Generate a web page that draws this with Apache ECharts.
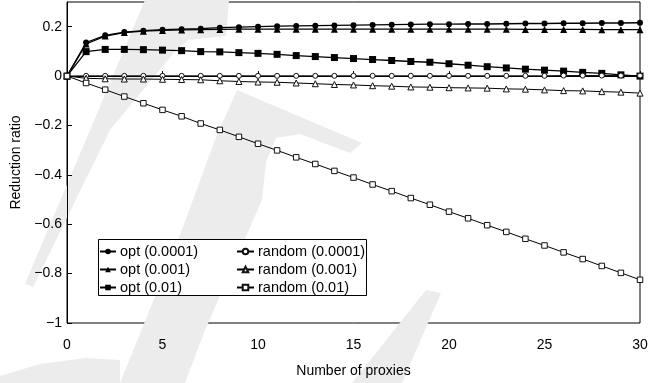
<!DOCTYPE html>
<html>
<head>
<meta charset="utf-8">
<script src="https://cdn.jsdelivr.net/npm/echarts@6/dist/echarts.min.js"></script>
<style>
html,body{margin:0;padding:0;background:#fff;}
#c{width:656px;height:383px;}
</style>
</head>
<body>
<div id="c"></div>
<script>
const proxies = [0,1,2,3,4,5,6,7,8,9,10,11,12,13,14,15,16,17,18,19,20,21,22,23,24,25,26,27,28,29,30];
const optP0001 = [0,0.136,0.165,0.178,0.184,0.188,0.190,0.192,0.196,0.198,0.200,0.202,0.203,0.204,0.205,0.206,0.207,0.208,0.209,0.210,0.210,0.211,0.211,0.212,0.213,0.213,0.214,0.214,0.215,0.215,0.216];
const optP001 = [0,0.130,0.162,0.176,0.182,0.185,0.187,0.188,0.189,0.190,0.190,0.190,0.190,0.190,0.190,0.190,0.190,0.190,0.190,0.190,0.190,0.190,0.190,0.190,0.189,0.189,0.189,0.189,0.188,0.188,0.188];
const optP01 = [0,0.099,0.108,0.108,0.107,0.105,0.103,0.099,0.098,0.095,0.092,0.088,0.083,0.079,0.075,0.071,0.067,0.063,0.059,0.056,0.050,0.044,0.038,0.033,0.028,0.024,0.020,0.015,0.011,0.005,0.000];
const randP0001 = [0,0.001,0.001,0.001,0.001,0.001,0.001,0.001,0.001,0.001,0.001,0.001,0.001,0.001,0.001,0.001,0.001,0.001,0.001,0.001,0.001,0.001,0.001,0.001,0.001,0.001,0.002,0.002,0.002,0.002,0.002];
const randP001 = [0,-0.009,-0.011,-0.012,-0.012,-0.013,-0.014,-0.015,-0.019,-0.022,-0.024,-0.025,-0.028,-0.031,-0.034,-0.036,-0.039,-0.041,-0.044,-0.045,-0.047,-0.048,-0.049,-0.052,-0.053,-0.056,-0.059,-0.060,-0.063,-0.065,-0.069];
const randP01 = [0,-0.028,-0.055,-0.083,-0.110,-0.137,-0.163,-0.192,-0.218,-0.246,-0.274,-0.301,-0.329,-0.356,-0.384,-0.411,-0.439,-0.466,-0.494,-0.521,-0.549,-0.576,-0.604,-0.631,-0.659,-0.686,-0.714,-0.741,-0.769,-0.797,-0.825];
const seriesNames = ['opt (0.0001)','opt (0.001)','opt (0.01)','random (0.0001)','random (0.001)','random (0.01)'];
const xTitle = 'Number of proxies';
const yTitle = 'Reduction ratio';

const FONT = '"Liberation Sans", Arial, Helvetica, sans-serif';
const toPairs = arr => arr.map((v,i)=>[proxies[i], v]);

function mk(name, data, symbol, size, filled, lw) {
  return {
    name, type:'line', data: toPairs(data), symbol, symbolSize: size,
    showSymbol: true,
    lineStyle: {color:'#000', width: lw},
    itemStyle: filled ? {color:'#000', borderColor:'#000', borderWidth:0}
                      : {color:'#fff', borderColor:'#111', borderWidth:1},
    emphasis:{disabled:true},
    animation:false, z: 3
  };
}

const wm = '#ececec';
const watermark = [
  {type:'polygon', z:0, shape:{points:[[145,0],[229,0],[226,36],[188,40],[176,50],[110,130],[33,287],[25,284]]}, style:{fill:wm}},
  {type:'polygon', z:0, shape:{points:[[237,90],[362,143],[350,153],[300,134],[276,138],[266,162],[262,200],[205,330],[185,383],[120,383],[180,235],[215,140]]}, style:{fill:wm}},
  {type:'polygon', z:0, shape:{points:[[426,290],[441,293],[402,383],[352,383]]}, style:{fill:wm}},
  {type:'polygon', z:0, shape:{points:[[0,376],[40,364],[85,358],[120,360],[120,383],[0,383]]}, style:{fill:wm}},
  {type:'rect', z:1, shape:{x:98.5, y:239.5, width:268, height:56}, style:{fill:'#fff', stroke:'#000', lineWidth:1}}
];

const chart = echarts.init(document.getElementById('c'), null, {renderer:'canvas'});
chart.setOption({
  animation:false,
  backgroundColor:'#fff',
  graphic: watermark,
  grid:{left:67, right:16, top:2, bottom:56, show:true, borderColor:'#000', borderWidth:1, backgroundColor:'transparent'},
  xAxis:{
    type:'value', min:0, max:30, interval:5,
    name: xTitle, nameLocation:'middle', nameGap:41,
    nameTextStyle:{fontFamily:FONT, fontSize:14, color:'#000'},
    axisLine:{show:true, lineStyle:{color:'#000', width:1}},
    axisTick:{show:true, inside:true, length:5, lineStyle:{color:'#000'}},
    axisLabel:{fontFamily:FONT, fontSize:14, color:'#000', margin:15},
    splitLine:{show:false}
  },
  yAxis:{
    type:'value', min:-1, max:0.3, interval:0.2,
    name: yTitle, nameLocation:'middle', nameGap:35, nameRotate:90,
    nameTextStyle:{fontFamily:FONT, fontSize:14, color:'#000'},
    axisLine:{show:true, lineStyle:{color:'#000', width:1}},
    axisTick:{show:true, inside:true, length:5, lineStyle:{color:'#000'}},
    axisLabel:{fontFamily:FONT, fontSize:14, color:'#000', margin:5, showMaxLabel:false,
      formatter: v => { const r = Math.round(v*10)/10; if (r > 0.25) return ''; if (r === 0) return '0'; return (r<0?'\u2212':'') + String(Math.abs(r)); }},
    splitLine:{show:false}
  },
  legend:[
    {data: seriesNames.slice(0,3), orient:'vertical', left:99, top:244, padding:0, itemGap:3,
     itemWidth:16, itemHeight:7, textStyle:{fontFamily:FONT, fontSize:14.5, color:'#000', padding:[0,0,0,-1]}, z:5, selectedMode:false},
    {data: seriesNames.slice(3,6), orient:'vertical', left:236, top:244, padding:0, itemGap:3,
     itemWidth:17, itemHeight:7, textStyle:{fontFamily:FONT, fontSize:14.5, color:'#000', padding:[0,0,0,-1]}, z:5, selectedMode:false}
  ],
  series:[
    mk(seriesNames[0], optP0001, 'circle', 6, true, 1.3),
    mk(seriesNames[1], optP001, 'triangle', 7, true, 1.3),
    mk(seriesNames[2], optP01, 'rect', 7, true, 1.3),
    mk(seriesNames[3], randP0001, 'circle', 5, false, 1),
    mk(seriesNames[4], randP001, 'triangle', 6, false, 1),
    mk(seriesNames[5], randP01, 'rect', 5.5, false, 1)
  ]
});
</script>
</body>
</html>
